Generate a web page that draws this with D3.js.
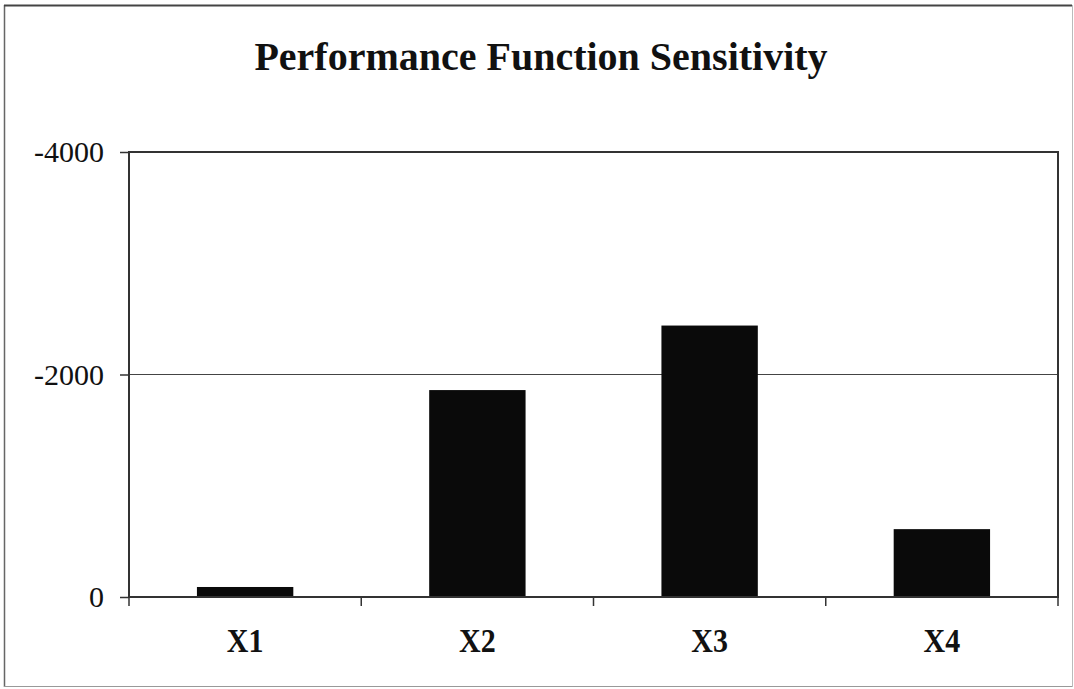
<!DOCTYPE html>
<html>
<head>
<meta charset="utf-8">
<script src="https://cdn.jsdelivr.net/npm/d3@7"></script>
<style>
  html, body { margin: 0; padding: 0; background: #fff; }
  svg { display: block; }
  text { font-family: "Liberation Serif", "Times New Roman", serif; fill: #111; }
</style>
</head>
<body>
<svg id="chart" width="1074" height="689"></svg>
<script>
// Sensitivity of the performance function to each variable
const categories = ["X1", "X2", "X3", "X4"];
const sensitivity = [-90, -1860, -2440, -610];
const yTicks = [-4000, -2000, 0];
const titleText = "Performance Function Sensitivity";

const plot = { left: 129, top: 152, right: 1058, bottom: 597 };

const svg = d3.select("#chart");

// outer chart frame
svg.append("line").attr("x1", 4.5).attr("x2", 4.5).attr("y1", 5).attr("y2", 687)
  .attr("stroke", "#666").attr("stroke-width", 1.5);
svg.append("line").attr("x1", 4).attr("x2", 1072).attr("y1", 5.5).attr("y2", 5.5)
  .attr("stroke", "#444").attr("stroke-width", 2);
svg.append("line").attr("x1", 4).attr("x2", 1072).attr("y1", 686.5).attr("y2", 686.5)
  .attr("stroke", "#999").attr("stroke-width", 1);
svg.append("line").attr("x1", 1072.5).attr("x2", 1072.5).attr("y1", 5).attr("y2", 687)
  .attr("stroke", "#bbb").attr("stroke-width", 1);

// title
svg.append("text")
  .attr("x", 541).attr("y", 70)
  .attr("text-anchor", "middle")
  .attr("font-size", 40).attr("font-weight", "bold")
  .text(titleText);

const x = d3.scaleBand()
  .domain(categories)
  .range([plot.left, plot.right])
  .paddingInner(0.585).paddingOuter(0.2925);

const y = d3.scaleLinear()
  .domain([0, -4000])
  .range([plot.bottom, plot.top]);

// gridlines
svg.append("g")
  .selectAll("line")
  .data(yTicks.filter(d => d !== 0 && d !== -4000))
  .join("line")
  .attr("x1", plot.left).attr("x2", plot.right)
  .attr("y1", d => y(d)).attr("y2", d => y(d))
  .attr("stroke", "#444").attr("stroke-width", 1);

// bars
svg.append("g")
  .selectAll("rect")
  .data(categories.map((c, i) => ({ c, v: sensitivity[i] })))
  .join("rect")
  .attr("x", d => x(d.c))
  .attr("width", x.bandwidth())
  .attr("y", d => y(d.v))
  .attr("height", d => y(0) - y(d.v))
  .attr("fill", "#0a0a0a");

// plot frame
svg.append("rect")
  .attr("x", plot.left).attr("y", plot.top)
  .attr("width", plot.right - plot.left)
  .attr("height", plot.bottom - plot.top)
  .attr("fill", "none")
  .attr("stroke", "#333").attr("stroke-width", 2);

// y axis
const yAxis = d3.axisLeft(y)
  .tickValues(yTicks)
  .tickSize(9)
  .tickPadding(16)
  .tickFormat(d => String(d));
const gy = svg.append("g")
  .attr("transform", `translate(${plot.left},0)`)
  .call(yAxis);
gy.select(".domain").remove();
gy.selectAll(".tick line").attr("stroke", "#333").attr("stroke-width", 1.5);
gy.selectAll(".tick text")
  .attr("font-size", 30)
  .attr("font-family", "Liberation Serif, Times New Roman, serif")
  .attr("fill", "#111");

// x axis: ticks at category boundaries
const edges = categories.map(c => x(c) - x.step() * x.paddingInner() / 2);
edges.push(plot.right);
svg.append("g")
  .selectAll("line")
  .data(edges)
  .join("line")
  .attr("x1", d => d).attr("x2", d => d)
  .attr("y1", plot.bottom).attr("y2", plot.bottom + 9)
  .attr("stroke", "#333").attr("stroke-width", 1.5);

// category labels, slightly tall lettering
svg.append("g")
  .selectAll("text")
  .data(categories)
  .join("text")
  .attr("transform", d => `translate(${x(d) + x.bandwidth() / 2},652) scale(1,1.15)`)
  .attr("text-anchor", "middle")
  .attr("font-size", 30).attr("font-weight", "bold")
  .text(d => d);
</script>
</body>
</html>
